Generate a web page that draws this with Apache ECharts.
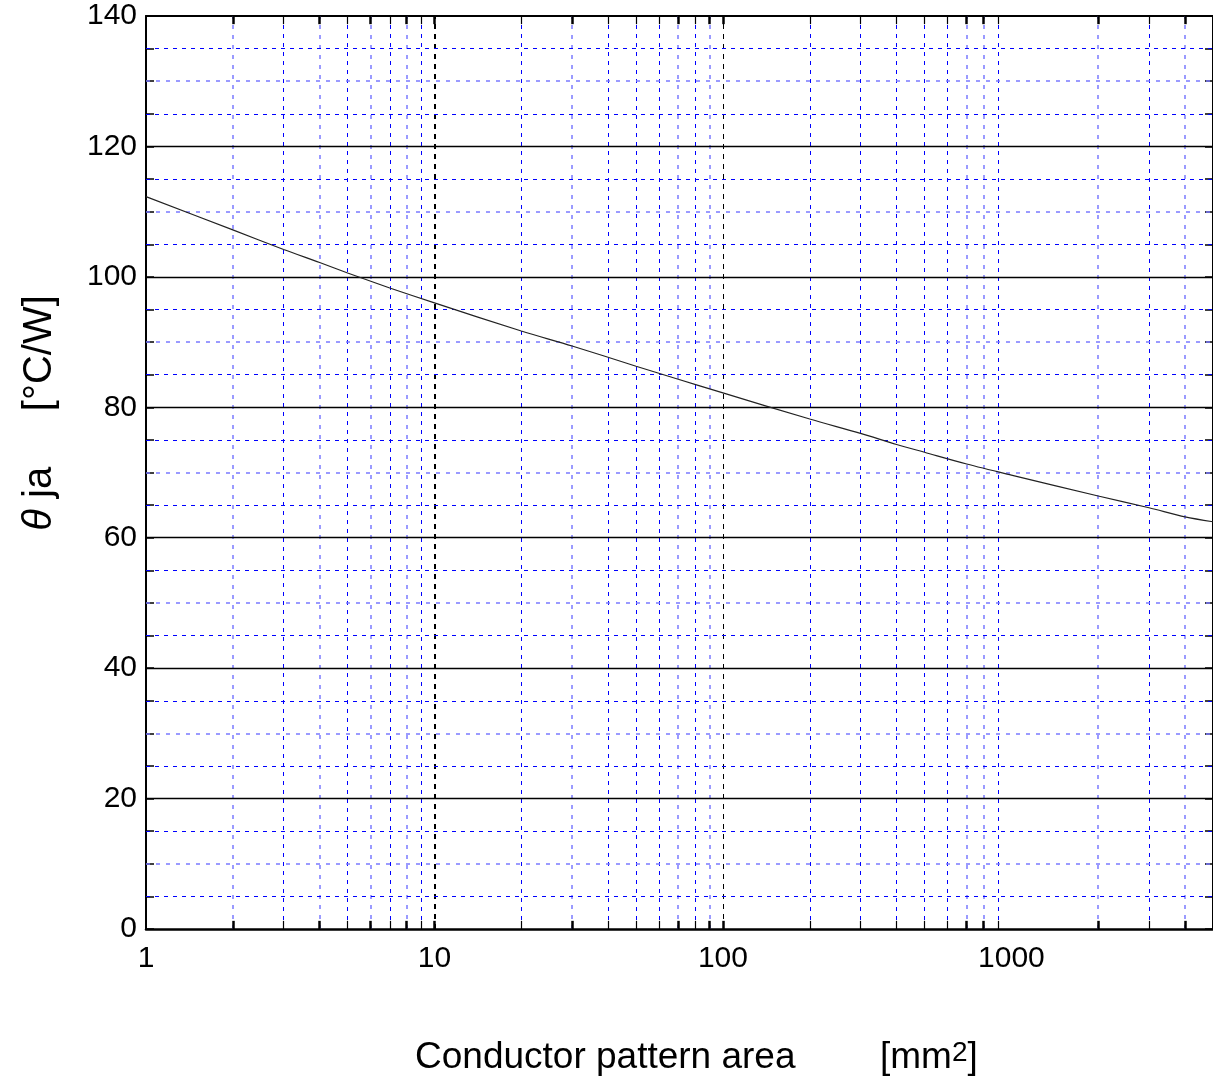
<!DOCTYPE html>
<html>
<head>
<meta charset="utf-8">
<script src="https://cdn.jsdelivr.net/npm/echarts@6/dist/echarts.min.js"></script>
<style>
html,body{margin:0;padding:0;background:#fff;}
#chart{width:1213px;height:1085px;}
</style>
</head>
<body>
<div id="chart"></div>
<script>
// ---- data ----
const areaMm2 = [1, 2, 3, 4, 5, 7, 10, 20, 30, 50, 70, 100, 200, 300, 400, 500, 700, 1000, 2000, 3000, 4000, 5000];
const thetaJa = [112.3, 107.2, 104.2, 102.2, 100.6, 98.3, 96.0, 91.7, 89.4, 86.3, 84.3, 82.2, 78.2, 76.0, 74.3, 73.1, 71.3, 69.6, 66.4, 64.6, 63.2, 62.45];
const xTickLabels = [1, 10, 100, 1000];
const yTickLabels = [0, 20, 40, 60, 80, 100, 120, 140];
const xMinorGrid = [2, 3, 4, 5, 6, 7, 8, 9, 20, 30, 40, 50, 60, 70, 80, 90, 200, 300, 400, 500, 600, 700, 800, 900, 2000, 3000, 4000];
const xDecadeGrid = [10, 100];
const yMajorGrid = [20, 40, 60, 80, 100, 120];
const yMinorGrid = [5, 10, 15, 25, 30, 35, 45, 50, 55, 65, 70, 75, 85, 90, 95, 105, 110, 115, 125, 130, 135];

// ---- styles ----
const FONT = 'Liberation Sans, Arial, sans-serif';
const X_MIN = 1, X_MAX = 5000, Y_MIN = 0, Y_MAX = 140;
const softX = [2, 4, 6, 8, 30, 70, 90, 700, 800, 2000, 4000];
const blueDark = '#0000ff';
const blueSoft = '#7a7aff';

const gridLines = [];
xMinorGrid.forEach(v => {
  const soft = softX.indexOf(v) >= 0;
  gridLines.push({xAxis: v, lineStyle: {color: soft ? blueSoft : blueDark, width: soft ? 1.5 : 1, type: soft ? [4, 6] : [4, 5]}});
});
xDecadeGrid.forEach((v, i) => {
  gridLines.push({xAxis: v, lineStyle: {color: '#000', width: i === 0 ? 2 : 1, type: [5, 5]}});
});
yMinorGrid.forEach(v => {
  const soft = v % 10 === 0;
  gridLines.push({yAxis: v, lineStyle: {color: soft ? blueSoft : blueDark, width: soft ? 1.5 : 1, type: soft ? [4, 6] : [4, 5]}});
});
yMajorGrid.forEach(v => {
  gridLines.push({yAxis: v, lineStyle: {color: '#000', width: 1.3, type: 'solid'}});
});
// minor ticks on bottom and top edges (inward)
const tickLen = 1.25;
xMinorGrid.concat(xDecadeGrid).forEach(v => {
  const thick = softX.indexOf(v) >= 0 || xDecadeGrid.indexOf(v) >= 0;
  const ls = {color: '#000', width: thick ? 2.5 : 1.2, type: 'solid'};
  gridLines.push([{coord: [v, Y_MIN], lineStyle: ls}, {coord: [v, Y_MIN + tickLen]}]);
  gridLines.push([{coord: [v, Y_MAX], lineStyle: ls}, {coord: [v, Y_MAX - tickLen]}]);
});

const chart = echarts.init(document.getElementById('chart'), null, {renderer: 'canvas'});
chart.setOption({
  animation: false,
  backgroundColor: '#fff',
  grid: {left: 146, top: 16, right: 0, bottom: 156, containLabel: false},
  xAxis: [{
    type: 'log', logBase: 10, min: X_MIN, max: X_MAX,
    axisLine: {show: true, onZero: false, lineStyle: {color: '#000', width: 2.5}},
    axisTick: {show: false},
    splitLine: {show: false},
    minorTick: {show: false},
    axisLabel: {
      color: '#000', fontFamily: FONT, fontSize: 30, margin: 15,
      showMaxLabel: false,
      formatter: v => xTickLabels.indexOf(Math.round(v)) >= 0 ? String(Math.round(v)) : ''
    }
  }, {
    type: 'log', logBase: 10, min: X_MIN, max: X_MAX, position: 'top',
    axisLine: {show: true, onZero: false, lineStyle: {color: '#000', width: 2}},
    axisTick: {show: false}, axisLabel: {show: false}, splitLine: {show: false}
  }],
  yAxis: [{
    type: 'value', min: Y_MIN, max: Y_MAX, interval: 5,
    axisLine: {show: true, onZero: false, lineStyle: {color: '#000', width: 2}},
    axisTick: {show: true, inside: true, length: 8, lineStyle: {color: '#000', width: 1.5}},
    splitLine: {show: false},
    axisLabel: {
      color: '#000', fontFamily: FONT, fontSize: 30, margin: 9,
      formatter: v => yTickLabels.indexOf(v) >= 0 ? String(v) : ''
    }
  }, {
    type: 'value', min: Y_MIN, max: Y_MAX, interval: 5, position: 'right',
    axisLine: {show: true, onZero: false, lineStyle: {color: '#000', width: 2}},
    axisTick: {show: true, inside: true, length: 8, lineStyle: {color: '#000', width: 1.5}},
    splitLine: {show: false}, axisLabel: {show: false}
  }],
  series: [{
    type: 'line',
    data: areaMm2.map((x, i) => [x, thetaJa[i]]),
    smooth: 0.3,
    showSymbol: false,
    lineStyle: {color: '#222', width: 1.2},
    z: 5,
    markLine: {
      silent: true, symbol: 'none', label: {show: false},
      animation: false, z: 1,
      data: gridLines
    }
  }],
  graphic: [{
    type: 'text',
    x: 40, y: 413, rotation: Math.PI / 2,
    style: {
      text: '{t|θ} ja     [°C/W]',
      font: '40px ' + FONT,
      fill: '#000',
      textAlign: 'center', textVerticalAlign: 'middle',
      rich: {t: {fontStyle: 'italic', fontSize: 40, fontFamily: FONT}}
    }
  }, {
    type: 'text',
    x: 415, y: 1058,
    style: {
      text: 'Conductor pattern area',
      font: '37px ' + FONT,
      fill: '#000',
      textAlign: 'left', textVerticalAlign: 'middle'
    }
  }, {
    type: 'text',
    x: 880, y: 1058,
    style: {
      text: '[mm{s|2}]',
      font: '37px ' + FONT,
      fill: '#000',
      textAlign: 'left', textVerticalAlign: 'middle',
      rich: {s: {fontSize: 28, fontFamily: FONT, verticalAlign: 'top', padding: [0, 0, 10, 0]}}
    }
  }]
});
</script>
</body>
</html>
